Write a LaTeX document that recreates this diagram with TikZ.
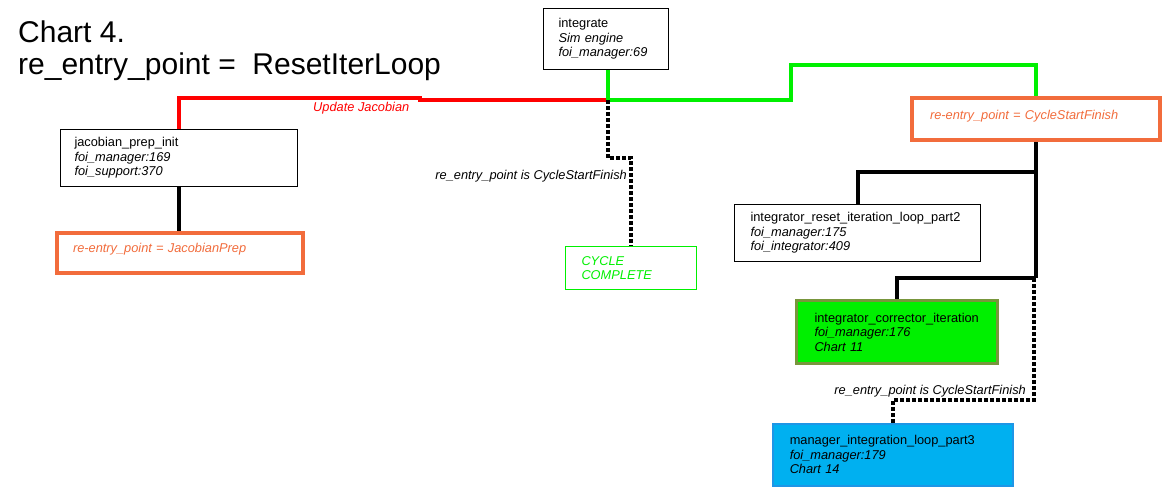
\documentclass[tikz,border=0pt]{standalone}
\usepackage{fontspec}
\setmainfont{Liberation Sans}
\definecolor{orng}{RGB}{242,108,60}
\definecolor{lgreen}{RGB}{0,240,0}
\definecolor{olive2}{RGB}{120,150,60}
\definecolor{skyb}{RGB}{0,176,240}
\definecolor{skybd}{RGB}{30,150,230}
\newcommand{\fs}{\fontsize{12.8}{14.5}\selectfont}
\begin{document}
\begin{tikzpicture}[x=1pt,y=-1pt,
  box/.style={draw=black, line width=1pt, rectangle, anchor=north west, inner ysep=0pt, align=left, font=\fs},
  obox/.style={draw=orng, line width=4pt, fill=white, rectangle, anchor=north west, inner ysep=0pt, align=left, font=\fs\itshape, text=orng},
  thick line/.style={line width=4pt},
  dotline/.style={line width=4pt, dash pattern=on 4pt off 2pt},
  lbl/.style={font=\fs\itshape, inner sep=0pt}
]
\useasboundingbox (0,0) rectangle (1168,500);
\fill[white] (0,0) rectangle (1168,500);

% title
\node[anchor=base west, inner sep=0pt, font=\fontsize{30}{32}\selectfont] (t1) at (18,43) {Chart 4.};
\node[anchor=base west, inner sep=0pt, font=\fontsize{30}{32}\selectfont] (t2) at (18,75) {re\_entry\_point =\ \ ResetIterLoop};

% nodes
\node[box, minimum width=125pt, minimum height=61pt, inner xsep=15pt, text width=95pt] (int) at (543,8)
  {integrate\\\textit{Sim engine}\\\textit{foi\_manager:69}};
\node[box, minimum width=237pt, minimum height=57pt, inner xsep=14pt, text width=209pt] (jac) at (60,129)
  {jacobian\_prep\_init\\\textit{foi\_manager:169}\\\textit{foi\_support:370}};
\node[obox, minimum width=246pt, minimum height=40pt, inner xsep=16pt, text width=214pt, text height=19pt, text depth=21pt] (jp) at (55,231)
  {re-entry\_point = JacobianPrep};
\node[box, draw=lgreen, text=lgreen, font=\fs\itshape, minimum width=131pt, minimum height=43pt, inner xsep=16pt, text width=99pt] (cc) at (565,246)
  {CYCLE\\COMPLETE};
\node[obox, minimum width=248pt, minimum height=42pt, inner xsep=18pt, text width=212pt, text height=22pt, text depth=20pt] (csf) at (910,96)
  {re-entry\_point = CycleStartFinish};
\node[box, minimum width=246pt, minimum height=57pt, inner xsep=16pt, text width=214pt] (reset) at (734,204)
  {integrator\_reset\_iteration\_loop\_part2\\\textit{foi\_manager:175}\\\textit{foi\_integrator:409}};
\node[box, draw=olive2, line width=3pt, fill=lgreen, minimum width=201pt, minimum height=63pt, inner xsep=18pt, text width=165pt] (corr) at (795,299)
  {integrator\_corrector\_iteration\\\textit{foi\_manager:176}\\\textit{Chart 11}};
\node[box, draw=skybd, line width=1.5pt, fill=skyb, minimum width=240pt, minimum height=62pt, inner xsep=17pt, text width=206pt] (mil) at (772,423)
  {manager\_integration\_loop\_part3\\\textit{foi\_manager:179}\\\textit{Chart 14}};

% junctions
\coordinate (hub) at (608,100);
\coordinate (b2) at (1034,278);

% red connector
\draw[thick line, red] (jac.north) |- (420,98) -- (420,100) -- (hub);
\node[lbl, text=red, anchor=west] (uj) at (313,108) {Update Jacobian};

% green connector
\draw[thick line, lgreen] (int.south -| hub) -- (hub) -- (791,100) -- (791,65) -| (csf.north);

% dotted to cycle complete
\draw[dotline] (hub) |- (cc.north |- 0,158) -- (cc.north);
\node[lbl, anchor=east] (l1) at (627,176) {re\_entry\_point is CycleStartFinish};

% black connectors
\draw[thick line] (jac.south) -- (jac.south |- jp.north);
\draw[thick line] (csf.south) -- (csf.south |- b2);
\draw[thick line] (csf.south |- 0,172) -| (reset.north);
\draw[thick line] (b2) -| (corr.north);

% dotted to manager loop
\draw[dotline] (b2) |- (mil.north |- 0,400) -- (mil.north);
\node[lbl, anchor=east] (l2) at (1026,391) {re\_entry\_point is CycleStartFinish};
\end{tikzpicture}
\end{document}
